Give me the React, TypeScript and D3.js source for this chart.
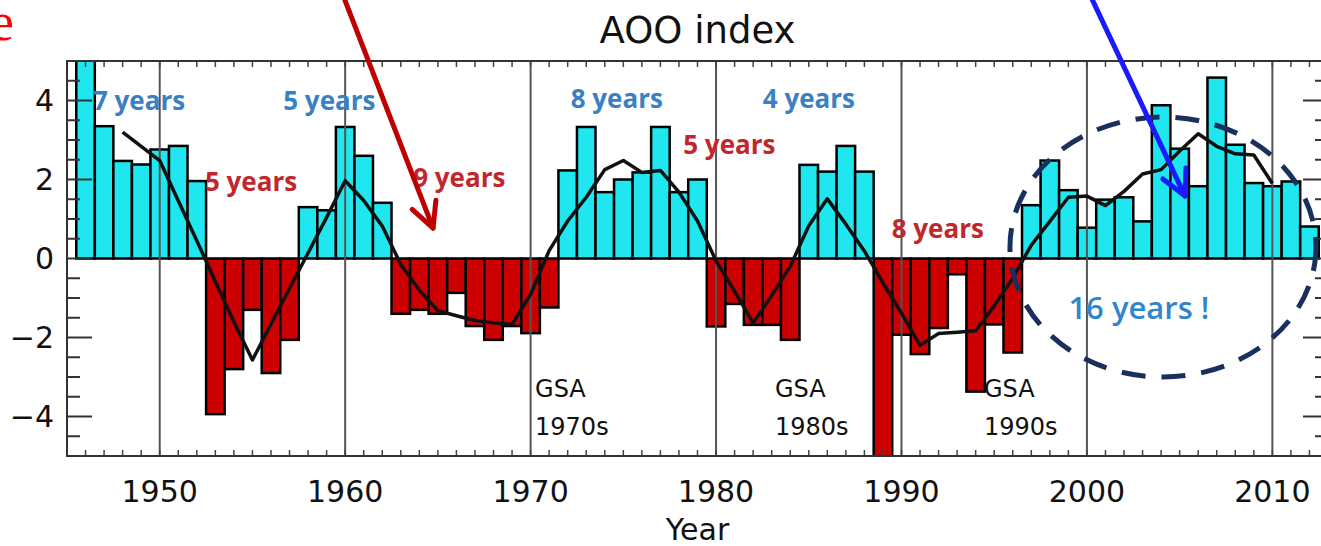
import React from 'react';
import * as d3 from 'd3';

// AOO index, one value per year starting 1946
const firstYear = 1946;
const aoo = [
  5.4, 3.35, 2.47, 2.38, 2.76, 2.85, 1.96, -3.94, -2.8, -1.3,
  -2.9, -2.06, 1.3, 1.22, 3.33, 2.6, 1.41, -1.4, -1.3, -1.4,
  -0.87, -1.71, -2.06, -1.71, -1.89, -1.24, 2.23, 3.33, 1.68, 2.0,
  2.18, 3.33, 1.68, 2.0, -1.72, -1.15, -1.68, -1.68, -2.06, 2.37,
  2.2, 2.85, 2.2, -5.4, -1.93, -2.42, -1.76, -0.4, -3.37, -1.67,
  -2.38, 1.35, 2.48, 1.73, 0.78, 1.49, 1.55, 0.94, 3.88, 2.78,
  1.83, 4.58, 2.88, 1.91, 1.83, 1.95, 0.81
];

// smoothed curve, 1948 - 2010
const smoothStart = 1948;
const smooth = [
  3.2, 2.84, 2.48, 1.46, 0.45, -0.58, -1.6, -2.57, -1.66, -0.76,
  0.14, 1.04, 1.97, 1.47, 0.82, -0.15, -0.8, -1.32, -1.45, -1.57,
  -1.63, -1.67, -0.91, 0.2, 0.95, 1.55, 2.25, 2.48, 2.18, 2.23,
  1.68, 0.95, -0.06, -0.83, -1.63, -0.94, -0.2, 0.83, 1.51, 0.87,
  0.19, -0.62, -1.38, -2.2, -1.9, -1.87, -1.83, -1.2, -0.5, 0.34,
  0.94, 1.55, 1.58, 1.34, 1.7, 2.14, 2.25, 2.72, 3.16, 2.84,
  2.65, 2.62, 1.9
];

const decades = [1950, 1960, 1970, 1980, 1990, 2000, 2010];
const yLabels = [4, 2, 0, -2, -4];

const blue = '#3b80c2';
const red = '#c1272d';

// text notes, placed in data units (year, index value)
const notes = [
  { t: '7 years', yr: 1946.4, v: 3.76, c: blue },
  { t: '5 years', yr: 1956.66, v: 3.76, c: blue },
  { t: '5 years', yr: 1952.44, v: 1.72, c: red },
  { t: '9 years', yr: 1963.67, v: 1.81, c: red },
  { t: '8 years', yr: 1972.16, v: 3.8, c: blue },
  { t: '4 years', yr: 1982.52, v: 3.8, c: blue },
  { t: '5 years', yr: 1978.23, v: 2.65, c: red },
  { t: '8 years', yr: 1989.47, v: 0.53, c: red },
];

const gsa = [
  { yr: 1970.24, label: '1970s' },
  { yr: 1983.18, label: '1980s' },
  { yr: 1994.45, label: '1990s' },
];

function Arrow({ x1, y1, x2, y2, color }) {
  const a = Math.atan2(y2 - y1, x2 - x1);
  const len = 28, spread = 27 * Math.PI / 180;
  const w1 = [x2 - len * Math.cos(a - spread), y2 - len * Math.sin(a - spread)];
  const w2 = [x2 - len * Math.cos(a + spread), y2 - len * Math.sin(a + spread)];
  return (
    <g stroke={color} strokeWidth={5} fill="none" strokeLinecap="round" strokeLinejoin="round">
      <line x1={x1} y1={y1} x2={x2} y2={y2} />
      <polyline points={`${w1[0]},${w1[1]} ${x2},${y2} ${w2[0]},${w2[1]}`} />
    </g>
  );
}

export default function App() {
  const W = 1321, H = 546;
  const left = 67, right = 1328, top = 61, bottom = 456;

  const x = d3.scaleLinear().domain([1945, 2013]).range([left, right]);
  const y = d3.scaleLinear().domain([-5, 5]).range([bottom, top]);

  const years = aoo.map((_, i) => firstYear + i);
  const line = d3.line<number>().x((_, i) => x(smoothStart + i)).y(d => y(d));

  const yearTicks = x.ticks(68);
  const yTicks = y.ticks(20);

  const tickFont = { fontFamily: 'DejaVu Sans', fontSize: 30, fill: '#111' };

  return (
    <svg width={W} height={H} style={{ position: 'absolute', left: 0, top: 0, background: '#fff' }}>
      <defs>
        <clipPath id="plot">
          <rect x={left} y={top} width={right - left} height={bottom - top} />
        </clipPath>
      </defs>

      <text x={14} y={40} textAnchor="end" fontFamily="Liberation Serif" fontSize={54} fill="#ff0000">e</text>

      <text x={(left + right) / 2} y={43} textAnchor="middle" fontFamily="DejaVu Sans" fontSize={37} fill="#111">AOO index</text>

      {/* bars */}
      <g clipPath="url(#plot)">
        {years.map((yr, i) => {
          const v = aoo[i];
          return (
            <rect key={yr}
              x={x(yr - 0.5)} width={x(yr + 0.5) - x(yr - 0.5)}
              y={Math.min(y(v), y(0))} height={Math.abs(y(v) - y(0))}
              fill={v >= 0 ? '#1fe6ef' : '#cc0000'} stroke="#000" strokeWidth={2.5} />
          );
        })}
      </g>

      {/* decade lines */}
      {decades.map(d => (
        <line key={d} x1={x(d)} x2={x(d)} y1={top} y2={bottom} stroke="#555" strokeWidth={2} />
      ))}

      {/* year ticks top and bottom */}
      {yearTicks.map(t => (
        <g key={t} stroke="#444" strokeWidth={1.5}>
          <line x1={x(t)} x2={x(t)} y1={bottom} y2={bottom - 6} />
          <line x1={x(t)} x2={x(t)} y1={top} y2={top + 6} />
        </g>
      ))}

      {/* y ticks left and right */}
      {yTicks.map(t => {
        const major = t % 2 === 0;
        const len = major ? 25 : 13;
        return (
          <g key={t} stroke="#333" strokeWidth={2}>
            <line x1={left} x2={left + len} y1={y(t)} y2={y(t)} />
            <line x1={right} x2={right - len} y1={y(t)} y2={y(t)} />
          </g>
        );
      })}

      <rect x={left} y={top} width={right - left} height={bottom - top} fill="none" stroke="#333" strokeWidth={2} />

      {/* smoothed curve */}
      <path d={line(smooth) || ''} fill="none" stroke="#111" strokeWidth={3.5} strokeLinejoin="round" />

      {/* axis labels */}
      {yLabels.map(v => (
        <text key={v} x={54} y={y(v)} dy="0.36em" textAnchor="end" {...tickFont}>
          {v < 0 ? '\u2212' + Math.abs(v) : v}
        </text>
      ))}
      {decades.map(d => (
        <text key={d} x={x(d)} y={502} textAnchor="middle" {...tickFont}>{d}</text>
      ))}
      <text x={(left + right) / 2} y={540} textAnchor="middle" {...tickFont}>Year</text>

      {/* period notes */}
      {notes.map((n, i) => (
        <text key={i} x={x(n.yr)} y={y(n.v)} fontFamily="Open Sans" fontWeight={700} fontSize={26} fill={n.c}>{n.t}</text>
      ))}

      {gsa.map(g => (
        <g key={g.label} fontFamily="DejaVu Sans" fontSize={24} fill="#111">
          <text x={x(g.yr)} y={y(-3.5)}>GSA</text>
          <text x={x(g.yr)} y={y(-4.47)}>{g.label}</text>
        </g>
      ))}

      {/* dashed ellipse around the recent positive phase */}
      <ellipse cx={x(2004.1)} cy={y(0.29)} rx={x(2004.1 + 8.25) - x(2004.1)} ry={y(0.29 - 3.29) - y(0.29)}
        fill="none" stroke="#1b2f5e" strokeWidth={5} strokeDasharray="24 16" />
      <text x={x(1999.0)} y={y(-1.52)} fontFamily="Open Sans" fontWeight={600} fontSize={31} fill="#2f86cc">16 years !</text>

      <Arrow x1={x(1959.88)} y1={y(6.67)} x2={x(1964.74)} y2={y(0.77)} color="#c00000" />
      <Arrow x1={x(2000.17)} y1={y(6.67)} x2={x(2005.29)} y2={y(1.58)} color="#1a1aff" />
    </svg>
  );
}
